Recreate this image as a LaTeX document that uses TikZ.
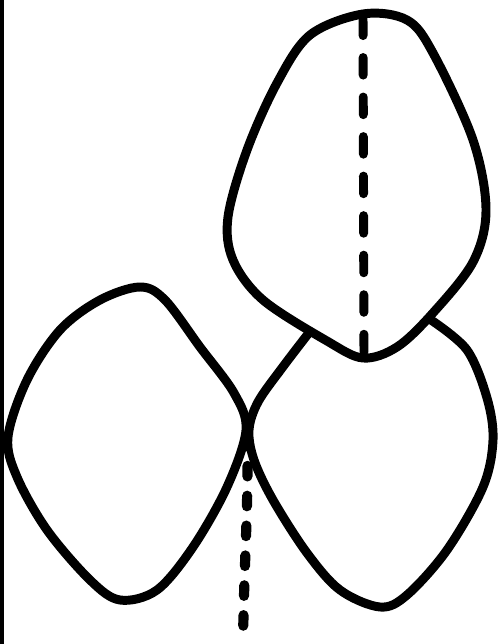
\documentclass[tikz,border=0pt]{standalone}
\usepackage{tikz}

\begin{document}
\begin{tikzpicture}[x=0.02cm,y=-0.02cm]

% Tratto a mano
\tikzset{
  bordo/.style={line width=5.1pt, line join=round, line cap=round},
  taglio/.style={line width=5.1pt, line cap=round, dash pattern=on 10pt off 12.5pt},
  tagliofitto/.style={line width=5.8pt, line cap=round, dash pattern=on 6pt off 11pt}
}

% Area del disegno
\useasboundingbox (0,0) rectangle (498,644);
\draw[line width=2.4pt] (2,0) -- (2,644);

% Lobo superiore
\draw[bordo] plot[smooth cycle, tension=0.55] coordinates {
  (363,14) (407,20) (433,53) (473,140) (486,210) (473,262)
  (432,314) (397,347) (363,358) (327,341) (263,300) (233,260)
  (228,217) (247,150) (277,83) (310,35)};

% Lobo destro (chiuso dal lobo superiore)
\draw[bordo] plot[smooth, tension=0.55] coordinates {
  (308,334) (282,368) (258,402) (249,430) (254,460) (273,500)
  (307,553) (340,590) (380,607) (407,595) (447,550) (483,487)
  (493,440) (487,398) (467,350) (431,320)};

% Lobo sinistro
\draw[bordo] plot[smooth cycle, tension=0.55] coordinates {
  (140,287) (165,300) (200,347) (234,393) (246,430) (227,487)
  (193,547) (157,590) (120,600) (90,580) (47,530) (17,477)
  (8,437) (27,380) (60,330) (100,300)};

% Assi tratteggiati
\coordinate (asseA) at (363,18);
\coordinate (asseB) at (364,356);
\draw[taglio] (asseA) -- (asseB);

\coordinate (asseC) at (247,436);
\coordinate (asseD) at (243,644);
\draw[tagliofitto] (asseC) .. controls (249,500) and (244,560) .. (asseD);

\end{tikzpicture}
\end{document}
